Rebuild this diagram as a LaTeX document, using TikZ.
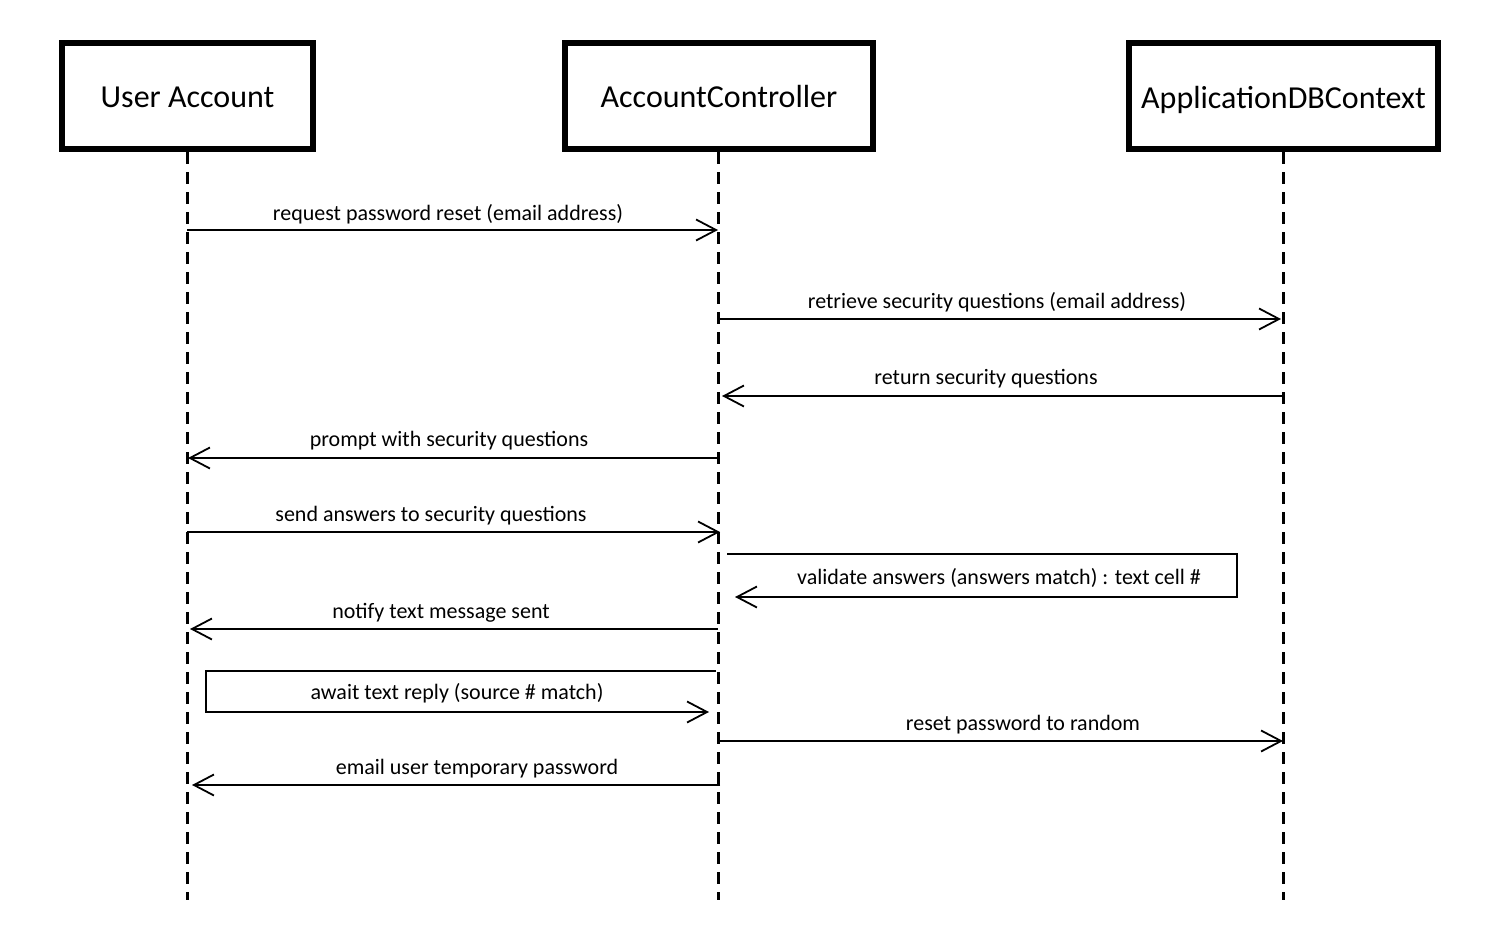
\documentclass[tikz,border=0pt]{standalone}
\usepackage{fontspec}
\setmainfont{Carlito}
\usetikzlibrary{arrows.meta}
\begin{document}
\begin{tikzpicture}[x=1pt,y=-1pt,
  actor/.style={draw=black,line width=6pt,fill=white,inner sep=0pt,
    minimum height=106pt},
  title/.style={anchor=base,inner sep=0pt,yshift=-11.5pt,font=\fontsize{32}{38}\selectfont},
  lifeline/.style={line width=3pt,dash pattern=on 12pt off 8pt},
  msg/.style={line width=1.8pt,-{Straight Barb[length=20pt,width=21pt,line width=1.8pt]}},
  lbl/.style={font=\fontsize{22}{26}\selectfont,inner sep=0pt,yshift=-2pt}]
\useasboundingbox (0,0) rectangle (1500,950);

% participants
\node[actor,minimum width=251pt] (ua) at (187.5,96) {};
\node[actor,minimum width=308pt] (ac) at (719,96) {};
\node[actor,minimum width=309pt] (db) at (1283.5,96) {};
\node[title] (uaT) at (ua.center) {User Account};
\node[title] (acT) at (ac.center) {AccountController};
\node[title] (dbT) at ([yshift=-1.5pt]db.center) {ApplicationDBContext};

% lifeline ends
\coordinate (uaEnd) at (187,900);
\coordinate (acEnd) at (718,900);
\coordinate (dbEnd) at (1283,900);
\draw[lifeline] (187,152) -- (uaEnd);
\draw[lifeline] (718,152) -- (acEnd);
\draw[lifeline] (1283,152) -- (dbEnd);

% message end points
\coordinate (m1a) at (187,230);  \coordinate (m1b) at (718,230);
\coordinate (m2a) at (718,319);  \coordinate (m2b) at (1281,319);
\coordinate (m3a) at (1283,396); \coordinate (m3b) at (722,396);
\coordinate (m4a) at (718,458);  \coordinate (m4b) at (188,458);
\coordinate (m5a) at (187,532);  \coordinate (m5b) at (720,532);
\coordinate (m6a) at (727,554);  \coordinate (m6c) at (1237,554);
\coordinate (m6d) at (1237,597); \coordinate (m6b) at (735,597);
\coordinate (m7a) at (718,629);  \coordinate (m7b) at (190,629);
\coordinate (m8a) at (716,671);  \coordinate (m8c) at (206,671);
\coordinate (m8d) at (206,712);  \coordinate (m8b) at (709,712);
\coordinate (m9a) at (720,741);  \coordinate (m9b) at (1283,741);
\coordinate (m10a) at (720,785); \coordinate (m10b) at (192,785);

% messages
\draw[msg] (m1a) -- (m1b);
\node[lbl] (l1) at (448,212) {request password reset (email address)};
\draw[msg] (m2a) -- (m2b);
\node[lbl] (l2) at (997,300) {retrieve security questions (email address)};
\draw[msg] (m3a) -- (m3b);
\node[lbl] (l3) at (986,377) {return security questions};
\draw[msg] (m4a) -- (m4b);
\node[lbl] (l4) at (449,439) {prompt with security questions};
\draw[msg] (m5a) -- (m5b);
\node[lbl] (l5) at (431,514) {send answers to security questions};
\draw[msg] (m6a) -- (m6c) -- (m6d) -- (m6b);
\node[lbl] (l6) at (999,576) {validate answers (answers match) : text cell \#};
\draw[msg] (m7a) -- (m7b);
\node[lbl] (l7) at (441,611) {notify text message sent};
\draw[msg] (m8a) -- (m8c) -- (m8d) -- (m8b);
\node[lbl] (l8) at (457,691) {await text reply (source \# match)};
\draw[msg] (m9a) -- (m9b);
\node[lbl] (l9) at (1023,723) {reset password to random};
\draw[msg] (m10a) -- (m10b);
\node[lbl] (l10) at (477,767) {email user temporary password};
\end{tikzpicture}
\end{document}
